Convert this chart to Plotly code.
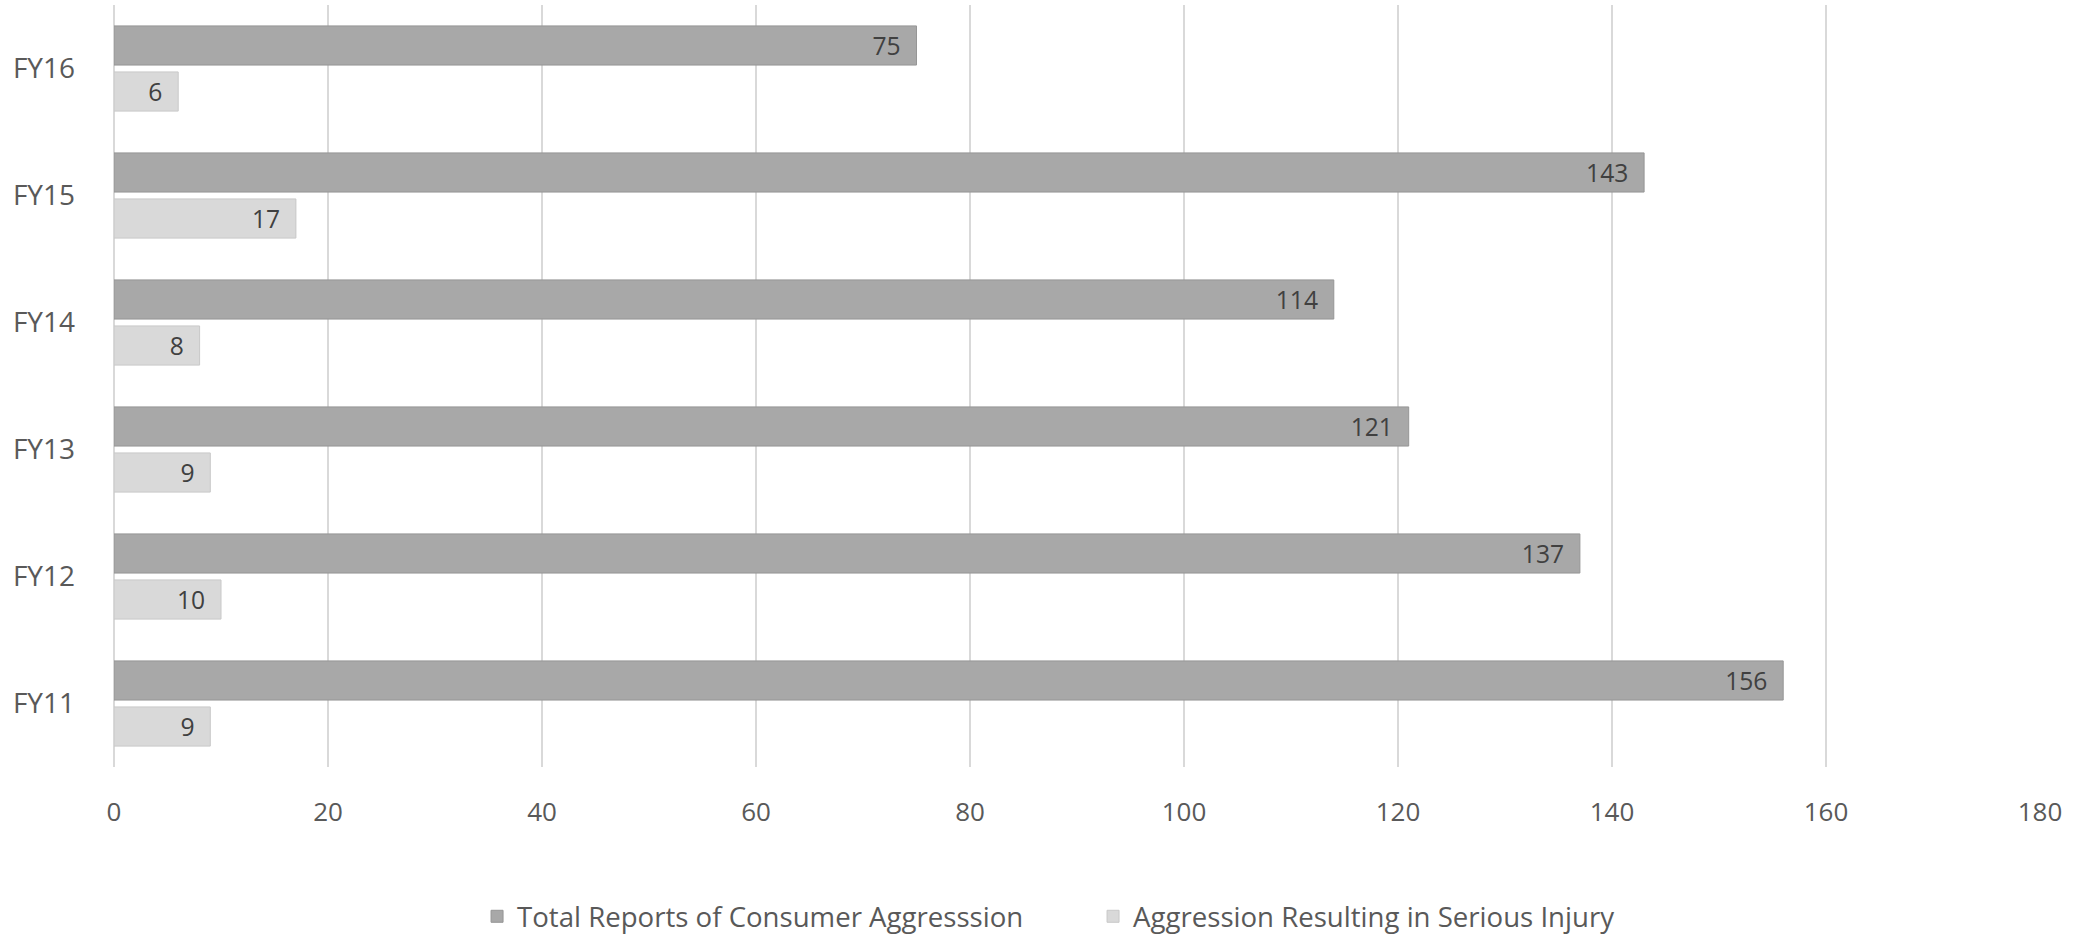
import plotly.graph_objects as go

# data
years = ["FY11", "FY12", "FY13", "FY14", "FY15", "FY16"]
total_reports = [156, 137, 121, 114, 143, 75]
serious_injury = [9, 10, 9, 8, 17, 6]
x_ticks = [0, 20, 40, 60, 80, 100, 120, 140, 160, 180]

label_tpl = "%{x}\u00a0\u00a0"

fig = go.Figure()

# injury trace first so it sits below the total bar inside each group
fig.add_bar(
    name="Aggression Resulting in Serious Injury",
    y=years, x=serious_injury, orientation="h",
    marker=dict(color="#d9d9d9", line=dict(color="#c8c8c8", width=1)),
    texttemplate=label_tpl, textposition="inside", insidetextanchor="end",
    textangle=0, textfont=dict(color="#404040", size=29),
    legendrank=2,
)
fig.add_bar(
    name="Total Reports of Consumer Aggresssion",
    y=years, x=total_reports, orientation="h",
    marker=dict(color="#a8a8a8", line=dict(color="#969696", width=1)),
    texttemplate=label_tpl, textposition="inside", insidetextanchor="end",
    textangle=0, textfont=dict(color="#404040", size=29),
    legendrank=1,
)

fig.update_layout(
    width=2082, height=936,
    margin=dict(l=114, r=42, t=5, b=169),
    plot_bgcolor="white", paper_bgcolor="white",
    font=dict(family="Open Sans", color="#595959", size=26),
    barmode="group", bargap=0.275, bargroupgap=0.15,
    showlegend=True,
    legend=dict(orientation="h", xref="container", x=0.525, xanchor="center",
                yref="container", y=0.021, yanchor="middle",
                font=dict(size=27.6, color="#595959"), traceorder="normal",
                entrywidth=571, entrywidthmode="pixels"),
)
fig.update_xaxes(range=[0, 180], tickvals=x_ticks, showgrid=True,
                 gridcolor="#d9d9d9", gridwidth=1.5, zeroline=True,
                 zerolinecolor="#d9d9d9", zerolinewidth=2,
                 ticks="", ticklabelstandoff=27, showline=False, automargin=False,
                 tickfont=dict(size=26, color="#595959"))
fig.update_yaxes(categoryorder="array", categoryarray=years, showgrid=False,
                 ticks="", ticklabelstandoff=38, showline=False, automargin=False,
                 tickfont=dict(size=28, color="#595959"))

# drop the default page margin so the figure fills the window exactly
fig.write_html("out.html", config={"displayModeBar": False},
               post_script="document.body.style.margin='0px';")
